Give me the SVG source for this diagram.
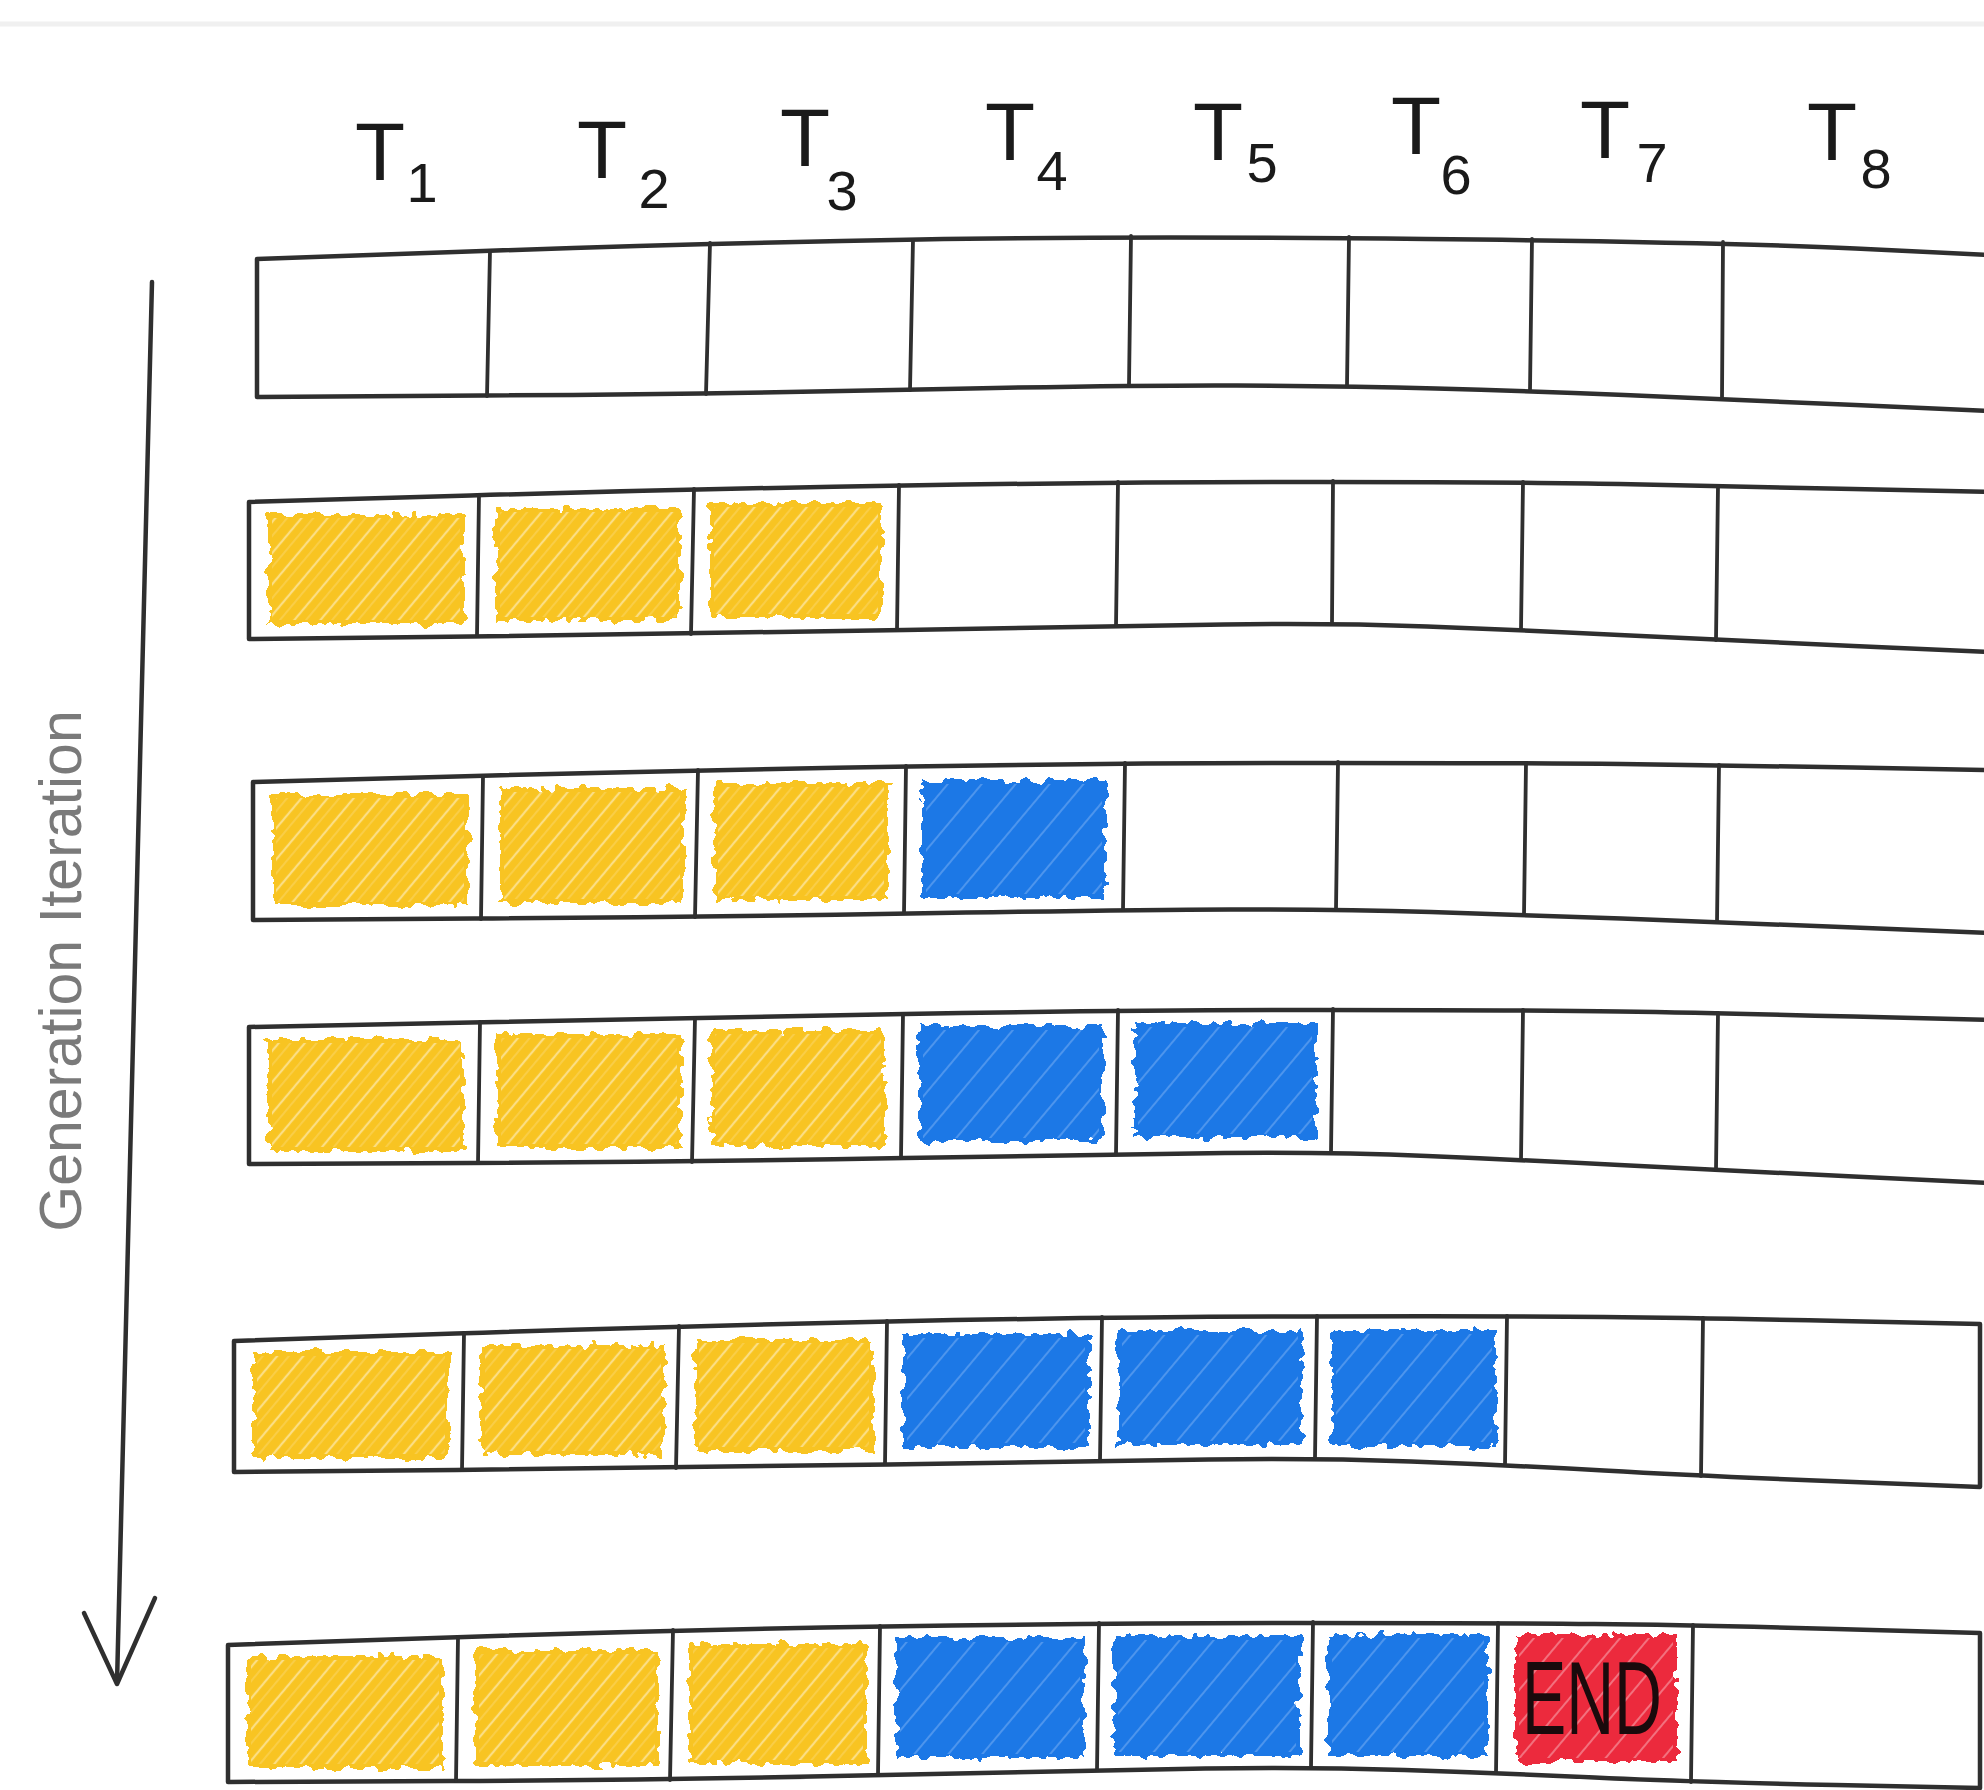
<svg xmlns="http://www.w3.org/2000/svg" width="1984" height="1790" viewBox="0 0 1984 1790">
<style>
.edge{fill:none;stroke:#2f2f2f;stroke-width:4.5;stroke-linejoin:round;stroke-linecap:round}
.div{fill:none;stroke:#2f2f2f;stroke-width:3.8;stroke-linecap:round}
.lbl{font-family:"Liberation Sans",Arial,sans-serif;fill:#1a1a1a;text-anchor:middle}
.T{font-size:82px}
.s{font-size:56px}
.y{fill:#F8C424}
.b{fill:#1F78E6}
.r{fill:#EC2A3E}
.ys{fill:url(#py)}
.bs{fill:url(#pb)}
.rs{fill:url(#pr)}
</style>
<defs>
<pattern id="py" patternUnits="userSpaceOnUse" width="20" height="20" patternTransform="rotate(40)">
<line x1="4" y1="0" x2="4" y2="20" stroke="#FDE7A6" stroke-width="2.2" opacity="0.75"/>
<line x1="13" y1="0" x2="13" y2="20" stroke="#FBDC80" stroke-width="1.4" opacity="0.55"/>
</pattern>
<pattern id="pb" patternUnits="userSpaceOnUse" width="26" height="26" patternTransform="rotate(40)">
<line x1="8" y1="0" x2="8" y2="26" stroke="#7DB2F3" stroke-width="2" opacity="0.5"/>
</pattern>
<pattern id="pr" patternUnits="userSpaceOnUse" width="22" height="22" patternTransform="rotate(40)">
<line x1="6" y1="0" x2="6" y2="22" stroke="#F7A0A9" stroke-width="2" opacity="0.6"/>
</pattern>
<filter id="rough" x="-6%" y="-12%" width="112%" height="124%">
<feTurbulence type="fractalNoise" baseFrequency="0.09" numOctaves="2" seed="3" result="n"/>
<feDisplacementMap in="SourceGraphic" in2="n" scale="14" xChannelSelector="R" yChannelSelector="G"/>
</filter>
</defs>
<rect width="1984" height="1790" fill="#ffffff"/>
<line x1="0" y1="24" x2="1984" y2="24" stroke="#f0f0f0" stroke-width="5"/>

<g id="labels">
<g id="label-T1"><text class="lbl T" x="380" y="180">T</text><text class="lbl s" x="422" y="202">1</text></g>
<g id="label-T2"><text class="lbl T" x="602" y="178">T</text><text class="lbl s" x="654" y="208">2</text></g>
<g id="label-T3"><text class="lbl T" x="805" y="166">T</text><text class="lbl s" x="842" y="210">3</text></g>
<g id="label-T4"><text class="lbl T" x="1010" y="160">T</text><text class="lbl s" x="1052" y="190">4</text></g>
<g id="label-T5"><text class="lbl T" x="1218" y="160">T</text><text class="lbl s" x="1262" y="182">5</text></g>
<g id="label-T6"><text class="lbl T" x="1416" y="154">T</text><text class="lbl s" x="1456" y="194">6</text></g>
<g id="label-T7"><text class="lbl T" x="1605" y="158">T</text><text class="lbl s" x="1652" y="182">7</text></g>
<g id="label-T8"><text class="lbl T" x="1832" y="160">T</text><text class="lbl s" x="1876" y="188">8</text></g>
</g>

<g id="axis-label">
<text transform="translate(81,971) rotate(-90)" x="0" y="0" font-family="'Liberation Sans',Arial,sans-serif" font-size="59" fill="#7a7a7a" text-anchor="middle">Generation Iteration</text>
</g>

<g id="connectors">
<path class="edge" d="M152,282 L117,1683"/>
<path class="edge" d="M84,1613 L117,1684 L155,1598"/>
</g>

<!-- Row 1 -->
<g id="row1">
<path class="edge" d="M1990,255 L1855.5,248.5 Q1721,242 1425.5,239 Q1130,236 919.5,239.5 Q709,243 483,251 L257,259 L257,397 L483,395.5 Q709,394 919.5,389.5 Q1130,385 1237,385.5 Q1344,386 1436,388.5 Q1528,391 1624.5,395 Q1721,399 1855.5,405 L1990,411"/>
<g class="div">
<line x1="490" y1="251" x2="487" y2="396"/>
<line x1="710" y1="243" x2="706" y2="394"/>
<line x1="913" y1="240" x2="910" y2="390"/>
<line x1="1131" y1="236" x2="1129" y2="385"/>
<line x1="1349" y1="237" x2="1347" y2="386"/>
<line x1="1532" y1="239" x2="1530" y2="391"/>
<line x1="1723" y1="242" x2="1722" y2="399"/>
</g>
</g>

<!-- Row 2 -->
<g id="row2">
<g filter="url(#rough)">
<rect id="r2c1" class="y" x="268" y="514" width="196" height="110"/>
<rect id="r2c2" class="y" x="496" y="508" width="184" height="113"/>
<rect id="r2c3" class="y" x="710" y="503" width="172" height="115"/>
</g>
<rect class="ys" x="272" y="518" width="188" height="102"/>
<rect class="ys" x="500" y="512" width="176" height="105"/>
<rect class="ys" x="714" y="507" width="164" height="107"/>
<path class="edge" d="M1990,492 L1853.5,489 Q1717,486 1619.5,484 Q1522,482 1319.5,482 Q1117,482 904.5,485.5 Q692,489 470.5,495.5 L249,502 L249,639 L470.5,636.5 Q692,634 904.5,630 Q1117,626 1224.5,624.5 Q1332,623 1427,626.5 Q1522,630 1619.5,635 Q1717,640 1853.5,646 L1990,652"/>
<g class="div">
<line x1="479" y1="495" x2="477" y2="636"/>
<line x1="694" y1="489" x2="691" y2="634"/>
<line x1="899" y1="485" x2="897" y2="630"/>
<line x1="1118" y1="482" x2="1116" y2="626"/>
<line x1="1333" y1="481" x2="1332" y2="623"/>
<line x1="1523" y1="482" x2="1521" y2="630"/>
<line x1="1718" y1="486" x2="1716" y2="640"/>
</g>
</g>

<!-- Row 3 -->
<g id="row3">
<g filter="url(#rough)">
<rect id="r3c1" class="y" x="272" y="794" width="196" height="112"/>
<rect id="r3c2" class="y" x="500" y="788" width="184" height="115"/>
<rect id="r3c3" class="y" x="714" y="783" width="174" height="117"/>
<rect id="r3c4" class="b" x="922" y="780" width="184" height="118"/>
</g>
<rect class="ys" x="276" y="798" width="188" height="104"/>
<rect class="ys" x="504" y="792" width="176" height="107"/>
<rect class="ys" x="718" y="787" width="166" height="109"/>
<rect class="bs" x="926" y="784" width="176" height="110"/>
<path class="edge" d="M1990,770 L1854,767.5 Q1718,765 1621.5,764 Q1525,763 1324.5,763 Q1124,763 910,766.5 Q696,770 474.5,776 L253,782 L253,920 L474.5,918.5 Q696,917 910,913.5 Q1124,910 1230.5,909.5 Q1337,909 1431,912 Q1525,915 1621.5,918.5 Q1718,922 1854,927.5 L1990,933"/>
<g class="div">
<line x1="483" y1="776" x2="481" y2="919"/>
<line x1="698" y1="770" x2="695" y2="917"/>
<line x1="906" y1="766" x2="904" y2="913"/>
<line x1="1125" y1="763" x2="1123" y2="910"/>
<line x1="1338" y1="762" x2="1336" y2="909"/>
<line x1="1526" y1="763" x2="1524" y2="915"/>
<line x1="1719" y1="765" x2="1717" y2="922"/>
</g>
</g>

<!-- Row 4 -->
<g id="row4">
<g filter="url(#rough)">
<rect id="r4c1" class="y" x="268" y="1039" width="196" height="112"/>
<rect id="r4c2" class="y" x="497" y="1034" width="184" height="114"/>
<rect id="r4c3" class="y" x="711" y="1030" width="174" height="116"/>
<rect id="r4c4" class="b" x="919" y="1026" width="184" height="116"/>
<rect id="r4c5" class="b" x="1134" y="1023" width="182" height="115"/>
</g>
<rect class="ys" x="272" y="1043" width="188" height="104"/>
<rect class="ys" x="501" y="1038" width="176" height="106"/>
<rect class="ys" x="715" y="1034" width="166" height="108"/>
<rect class="bs" x="923" y="1030" width="176" height="108"/>
<rect class="bs" x="1138" y="1027" width="174" height="107"/>
<path class="edge" d="M1990,1020 L1853.5,1016.5 Q1717,1013 1619.5,1011.5 Q1522,1010 1319.5,1010 Q1117,1010 905,1014 Q693,1018 471,1022.5 L249,1027 L249,1164 L471,1163 Q693,1162 905,1158 Q1117,1154 1224.5,1153 Q1332,1152 1427,1156 Q1522,1160 1619.5,1165 Q1717,1170 1853.5,1176.5 L1990,1183"/>
<g class="div">
<line x1="480" y1="1022" x2="478" y2="1163"/>
<line x1="695" y1="1018" x2="692" y2="1162"/>
<line x1="903" y1="1014" x2="901" y2="1158"/>
<line x1="1118" y1="1010" x2="1116" y2="1154"/>
<line x1="1333" y1="1009" x2="1331" y2="1152"/>
<line x1="1523" y1="1010" x2="1521" y2="1160"/>
<line x1="1718" y1="1013" x2="1716" y2="1170"/>
</g>
</g>

<!-- Row 5 -->
<g id="row5">
<g filter="url(#rough)">
<rect id="r5c1" class="y" x="253" y="1352" width="196" height="106"/>
<rect id="r5c2" class="y" x="481" y="1345" width="184" height="110"/>
<rect id="r5c3" class="y" x="695" y="1339" width="178" height="112"/>
<rect id="r5c4" class="b" x="903" y="1334" width="186" height="113"/>
<rect id="r5c5" class="b" x="1118" y="1331" width="184" height="114"/>
<rect id="r5c6" class="b" x="1332" y="1330" width="164" height="116"/>
</g>
<rect class="ys" x="257" y="1356" width="188" height="98"/>
<rect class="ys" x="485" y="1349" width="176" height="102"/>
<rect class="ys" x="699" y="1343" width="170" height="104"/>
<rect class="bs" x="907" y="1338" width="178" height="105"/>
<rect class="bs" x="1122" y="1335" width="176" height="106"/>
<rect class="bs" x="1336" y="1334" width="156" height="108"/>
<path class="edge" d="M1980,1324 L1841,1321 Q1702,1318 1604,1317 Q1506,1316 1303.5,1316.5 Q1101,1317 889,1321.5 Q677,1326 455.5,1333.5 L234,1341 L234,1472 L455.5,1470 Q677,1468 889,1464.5 Q1101,1461 1208.5,1459.5 Q1316,1458 1411,1461.5 Q1506,1465 1604,1470.5 Q1702,1476 1841,1481.5 L1980,1487 Z"/>
<g class="div">
<line x1="464" y1="1333" x2="462" y2="1470"/>
<line x1="679" y1="1326" x2="676" y2="1468"/>
<line x1="887" y1="1321" x2="885" y2="1464"/>
<line x1="1102" y1="1317" x2="1100" y2="1461"/>
<line x1="1317" y1="1316" x2="1315" y2="1458"/>
<line x1="1507" y1="1316" x2="1505" y2="1465"/>
<line x1="1703" y1="1318" x2="1701" y2="1476"/>
</g>
</g>

<!-- Row 6 -->
<g id="row6">
<g filter="url(#rough)">
<rect id="r6c1" class="y" x="247" y="1656" width="196" height="112"/>
<rect id="r6c2" class="y" x="475" y="1650" width="184" height="116"/>
<rect id="r6c3" class="y" x="689" y="1644" width="178" height="120"/>
<rect id="r6c4" class="b" x="896" y="1638" width="188" height="120"/>
<rect id="r6c5" class="b" x="1114" y="1636" width="186" height="120"/>
<rect id="r6c6" class="b" x="1328" y="1634" width="160" height="122"/>
<rect id="r6c7" class="r" x="1515" y="1634" width="162" height="128"/>
</g>
<rect class="ys" x="251" y="1660" width="188" height="104"/>
<rect class="ys" x="479" y="1654" width="176" height="108"/>
<rect class="ys" x="693" y="1648" width="170" height="112"/>
<rect class="bs" x="900" y="1642" width="180" height="112"/>
<rect class="bs" x="1118" y="1640" width="178" height="112"/>
<rect class="bs" x="1332" y="1638" width="152" height="114"/>
<rect class="rs" x="1519" y="1638" width="154" height="120"/>
<text x="1592" y="1734" font-family="'Liberation Sans',Arial,sans-serif" font-size="104" fill="#1a0a0c" text-anchor="middle" textLength="140" lengthAdjust="spacingAndGlyphs">END</text>
<path class="edge" d="M1980,1633 L1836,1629 Q1692,1625 1594.5,1624 Q1497,1623 1297.5,1623 Q1098,1623 884.5,1626.5 Q671,1630 449.5,1637.5 L228,1645 L228,1782 L449.5,1781 Q671,1780 884.5,1775 Q1098,1770 1205,1768.5 Q1312,1767 1404.5,1770 Q1497,1773 1594.5,1777.5 Q1692,1782 1836,1785 L1980,1788 Z"/>
<g class="div">
<line x1="458" y1="1637" x2="456" y2="1781"/>
<line x1="673" y1="1630" x2="670" y2="1780"/>
<line x1="880" y1="1626" x2="878" y2="1775"/>
<line x1="1099" y1="1623" x2="1097" y2="1770"/>
<line x1="1313" y1="1622" x2="1311" y2="1767"/>
<line x1="1498" y1="1623" x2="1496" y2="1773"/>
<line x1="1693" y1="1625" x2="1691" y2="1782"/>
</g>
</g>
</svg>
